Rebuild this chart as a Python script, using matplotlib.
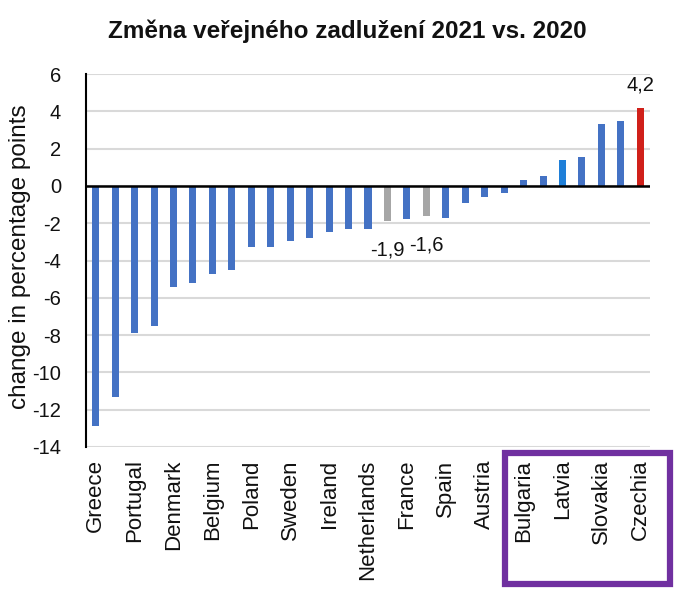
import matplotlib
matplotlib.use("Agg")
import matplotlib.pyplot as plt
from matplotlib.patches import Rectangle
import numpy as np

plt.rcParams["axes.unicode_minus"] = False

# ---- data ----
labels = ["Greece", "", "Portugal", "", "Denmark", "", "Belgium", "", "Poland", "",
          "Sweden", "", "Ireland", "", "Netherlands", "", "France", "", "Spain", "",
          "Austria", "", "Bulgaria", "", "Latvia", "", "Slovakia", "", "Czechia"]
values = [-12.9, -11.3, -7.9, -7.5, -5.4, -5.2, -4.7, -4.5, -3.3, -3.3,
          -2.95, -2.8, -2.45, -2.3, -2.3, -1.9, -1.8, -1.6, -1.7, -0.9,
          -0.6, -0.4, 0.3, 0.55, 1.4, 1.55, 3.3, 3.5, 4.2]
bar_kind = ["b"] * 15 + ["g", "b", "g"] + ["b"] * 6 + ["l"] + ["b"] * 3 + ["r"]
annotated = {15: "-1,9", 17: "-1,6", 28: "4,2"}
yticks = [6, 4, 2, 0, -2, -4, -6, -8, -10, -12, -14]

title = "Změna veřejného zadlužení 2021 vs. 2020"
ylabel = "change in percentage points"

colors = {"b": "#4472C4", "g": "#A6A6A6", "r": "#D0201A", "l": "#1F7FD8"}

regular = ["Liberation Sans", "DejaVu Sans"]

fig = plt.figure(figsize=(6.74, 5.93), dpi=100)
ax = fig.add_axes([86 / 674, 1 - 447 / 593, (650 - 86) / 674, (447 - 74) / 593])

x = np.arange(len(values))
ax.bar(x, values, width=0.36, color=[colors[k] for k in bar_kind], zorder=3)

ax.set_xlim(-0.5, len(values) - 0.5)
ax.set_ylim(-14, 6)
ax.set_yticks(yticks)
ax.yaxis.grid(True, color="#D9D9D9", linewidth=1.5, zorder=0)
ax.axhline(0, color="black", linewidth=1.8, zorder=4)

for s in ["top", "right", "bottom"]:
    ax.spines[s].set_visible(False)
ax.spines["left"].set_linewidth(1.5)
ax.spines["left"].set_zorder(5)

ax.tick_params(axis="y", length=0, pad=18)
for t in ax.get_yticklabels():
    t.set_fontfamily(regular)
    t.set_fontsize(14.5)
    t.set_color("#111111")

shown = [i for i, l in enumerate(labels) if l]
ax.set_xticks(shown)
ax.set_xticklabels([labels[i] for i in shown], rotation=90, family=regular,
                   fontsize=16, color="#111111")
ax.tick_params(axis="x", length=0, pad=9)

ax.set_ylabel(ylabel, family=regular, fontsize=17.5, color="#111111")
ax.yaxis.set_label_coords(-0.098, 0.51)

for i, txt in annotated.items():
    v = values[i]
    yy = v + 1.2 if v > 0 else v - 1.55
    ax.text(i, yy, txt, ha="center", va="center", family=regular,
            fontsize=14.5, color="#111111", zorder=6)

fig.text(347 / 674, 1 - 31 / 593, title, ha="center", va="center",
         family=regular, fontweight="bold", fontsize=17.5, color="#111111")

# highlight box around the last four labels
fig.patches.append(Rectangle((505 / 674, 1 - 584 / 593), (670 - 505) / 674,
                             (584 - 453) / 593, transform=fig.transFigure,
                             fill=False, edgecolor="#7030A0", linewidth=4.5))

fig.savefig("out.png", dpi=100)
